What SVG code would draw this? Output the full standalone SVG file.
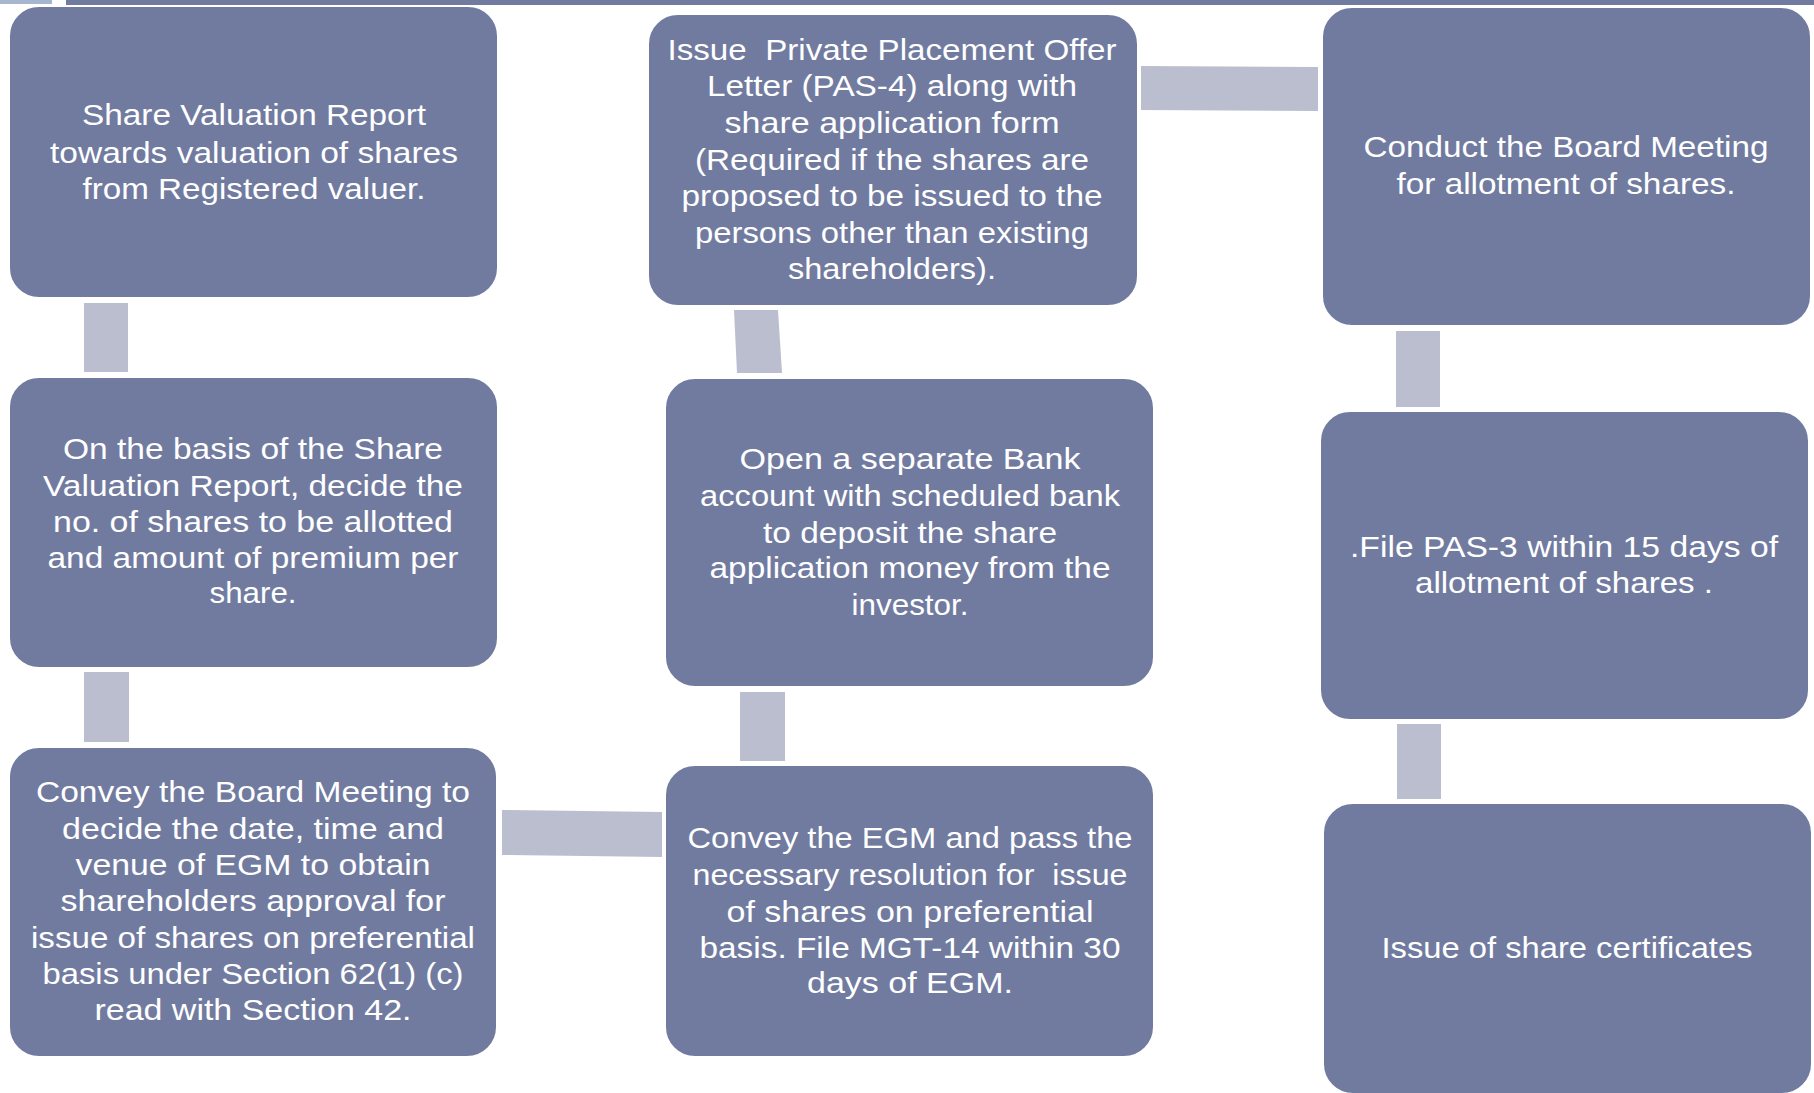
<svg xmlns="http://www.w3.org/2000/svg" width="1814" height="1093" viewBox="0 0 1814 1093">
<style>
.node{fill:#717BA0;stroke:#FFFFFF;stroke-width:2}
.conn{fill:#BBBECE}
.t{font-family:"Liberation Sans",Arial,sans-serif;font-size:30px;fill:#FFFFFF;text-anchor:middle}
.pre{white-space:pre}
</style>
<rect x="0" y="0" width="1814" height="1093" fill="#FFFFFF"/>
<g id="top-band">
<rect x="0" y="0" width="52" height="4" fill="#A7B6CF"/>
<rect x="66" y="0" width="1748" height="5" fill="#717BA0"/>
</g>
<g id="connectors">
<rect class="conn" x="84" y="303" width="44" height="69"/>
<rect class="conn" x="84" y="672" width="45" height="70"/>
<polygon class="conn" points="502,810 662,812 662,857 502,855"/>
<rect class="conn" x="740" y="692" width="45" height="69"/>
<polygon class="conn" points="734,310 778,310 782,373 737,373"/>
<polygon class="conn" points="1141,66 1318,67 1318,111 1141,110"/>
<rect class="conn" x="1396" y="331" width="44" height="76"/>
<rect class="conn" x="1397" y="724" width="44" height="75"/>
</g>
<g id="node-share-valuation">
<rect class="node" x="9" y="6" width="489" height="292" rx="30"/>
<text class="t" x="254" y="125" textLength="344" lengthAdjust="spacingAndGlyphs">Share Valuation Report</text>
<text class="t" x="254" y="163" textLength="408" lengthAdjust="spacingAndGlyphs">towards valuation of shares</text>
<text class="t" x="254" y="199" textLength="343" lengthAdjust="spacingAndGlyphs">from Registered valuer.</text>
</g>
<g id="node-decide-shares">
<rect class="node" x="9" y="377" width="489" height="291" rx="30"/>
<text class="t" x="253" y="459" textLength="380" lengthAdjust="spacingAndGlyphs">On the basis of the Share</text>
<text class="t" x="253" y="496" textLength="420" lengthAdjust="spacingAndGlyphs">Valuation Report, decide the</text>
<text class="t" x="253" y="532" textLength="400" lengthAdjust="spacingAndGlyphs">no. of shares to be allotted</text>
<text class="t" x="253" y="568" textLength="411" lengthAdjust="spacingAndGlyphs">and amount of premium per</text>
<text class="t" x="253" y="603" textLength="87" lengthAdjust="spacingAndGlyphs">share.</text>
</g>
<g id="node-board-meeting-egm">
<rect class="node" x="9" y="747" width="488" height="310" rx="30"/>
<text class="t" x="253" y="802" textLength="434" lengthAdjust="spacingAndGlyphs">Convey the Board Meeting to</text>
<text class="t" x="253" y="839" textLength="382" lengthAdjust="spacingAndGlyphs">decide the date, time and</text>
<text class="t" x="253" y="875" textLength="355" lengthAdjust="spacingAndGlyphs">venue of EGM to obtain</text>
<text class="t" x="253" y="911" textLength="385" lengthAdjust="spacingAndGlyphs">shareholders approval for</text>
<text class="t" x="253" y="948" textLength="444" lengthAdjust="spacingAndGlyphs">issue of shares on preferential</text>
<text class="t" x="253" y="984" textLength="421" lengthAdjust="spacingAndGlyphs">basis under Section 62(1) (c)</text>
<text class="t" x="253" y="1020" textLength="317" lengthAdjust="spacingAndGlyphs">read with Section 42.</text>
</g>
<g id="node-egm">
<rect class="node" x="665" y="765" width="489" height="292" rx="30"/>
<text class="t" x="910" y="848" textLength="445" lengthAdjust="spacingAndGlyphs">Convey the EGM and pass the</text>
<text class="t pre" x="910" y="885" textLength="435" lengthAdjust="spacingAndGlyphs">necessary resolution for  issue</text>
<text class="t" x="910" y="922" textLength="367" lengthAdjust="spacingAndGlyphs">of shares on preferential</text>
<text class="t" x="910" y="958" textLength="421" lengthAdjust="spacingAndGlyphs">basis. File MGT-14 within 30</text>
<text class="t" x="910" y="993" textLength="206" lengthAdjust="spacingAndGlyphs">days of EGM.</text>
</g>
<g id="node-bank-account">
<rect class="node" x="665" y="378" width="489" height="309" rx="30"/>
<text class="t" x="910" y="469" textLength="341" lengthAdjust="spacingAndGlyphs">Open a separate Bank</text>
<text class="t" x="910" y="506" textLength="420" lengthAdjust="spacingAndGlyphs">account with scheduled bank</text>
<text class="t" x="910" y="543" textLength="294" lengthAdjust="spacingAndGlyphs">to deposit the share</text>
<text class="t" x="910" y="578" textLength="401" lengthAdjust="spacingAndGlyphs">application money from the</text>
<text class="t" x="910" y="615" textLength="117" lengthAdjust="spacingAndGlyphs">investor.</text>
</g>
<g id="node-pas4">
<rect class="node" x="648" y="14" width="490" height="292" rx="30"/>
<text class="t pre" x="892" y="60" textLength="449" lengthAdjust="spacingAndGlyphs">Issue  Private Placement Offer</text>
<text class="t" x="892" y="96" textLength="370" lengthAdjust="spacingAndGlyphs">Letter (PAS-4) along with</text>
<text class="t" x="892" y="133" textLength="335" lengthAdjust="spacingAndGlyphs">share application form</text>
<text class="t" x="892" y="170" textLength="394" lengthAdjust="spacingAndGlyphs">(Required if the shares are</text>
<text class="t" x="892" y="206" textLength="421" lengthAdjust="spacingAndGlyphs">proposed to be issued to the</text>
<text class="t" x="892" y="243" textLength="394" lengthAdjust="spacingAndGlyphs">persons other than existing</text>
<text class="t" x="892" y="279" textLength="208" lengthAdjust="spacingAndGlyphs">shareholders).</text>
</g>
<g id="node-allotment-meeting">
<rect class="node" x="1322" y="7" width="489" height="319" rx="30"/>
<text class="t" x="1566" y="157" textLength="405" lengthAdjust="spacingAndGlyphs">Conduct the Board Meeting</text>
<text class="t" x="1566" y="194" textLength="339" lengthAdjust="spacingAndGlyphs">for allotment of shares.</text>
</g>
<g id="node-pas3">
<rect class="node" x="1320" y="411" width="489" height="309" rx="30"/>
<text class="t" x="1564" y="557" textLength="428" lengthAdjust="spacingAndGlyphs">.File PAS-3 within 15 days of</text>
<text class="t" x="1564" y="593" textLength="298" lengthAdjust="spacingAndGlyphs">allotment of shares .</text>
</g>
<g id="node-certificates">
<rect class="node" x="1323" y="803" width="489" height="291" rx="30"/>
<text class="t" x="1567" y="958" textLength="371" lengthAdjust="spacingAndGlyphs">Issue of share certificates</text>
</g>
</svg>
